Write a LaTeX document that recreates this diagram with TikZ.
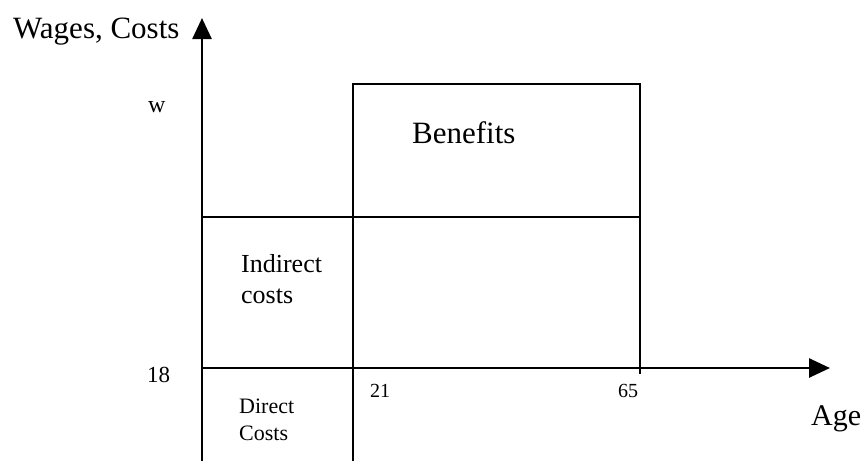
\documentclass[tikz,border=0pt]{standalone}
\usepackage{fontspec}
\setmainfont{Liberation Serif}
\usetikzlibrary{arrows.meta}
\begin{document}
\begin{tikzpicture}[x=1pt,y=-1pt,
  axis/.style={line width=2.6pt,-{Triangle[length=21pt,width=19pt]}},
  ln/.style={line width=2.6pt},
  lbl/.style={inner sep=0pt,anchor=base west,text=black}]
\useasboundingbox (0,0) rectangle (864,461);
% coordinates
\coordinate (O) at (202,368);
\coordinate (ytop) at (202,18);
\coordinate (ybot) at (202,461);
\coordinate (xend) at (830,368);
\coordinate (hl) at (202,217);
\coordinate (hr) at (640,217);
\coordinate (atop) at (353,84);
\coordinate (abot) at (353,461);
\coordinate (btop) at (640,84);
\coordinate (bbot) at (640,374);
% axes
\draw[axis] (ybot) -- (ytop);
\draw[axis] (O) -- (xend);
% lines
\draw[ln] (hl) -- (hr);
\draw[ln] (abot) -- (atop) -- (btop) -- (bbot);
% labels
\node[lbl] (wc) at (13,38) {\fontsize{31}{37}\selectfont Wages, Costs};
\node[lbl] (w) at (148,112) {\fontsize{24}{28}\selectfont w};
\node[lbl] (ben) at (412,143) {\fontsize{31}{37}\selectfont Benefits};
\node[lbl] (ind) at (241,272) {\fontsize{26}{31}\selectfont\vtop{\hbox{Indirect}\hbox{costs}}};
\node[lbl] (e18) at (147,382) {\fontsize{23}{27}\selectfont 18};
\node[lbl] (dir) at (239,413) {\fontsize{22}{27}\selectfont\vtop{\hbox{Direct}\hbox{Costs}}};
\node[lbl] (e21) at (370,397) {\fontsize{20}{24}\selectfont 21};
\node[lbl] (e65) at (618,397) {\fontsize{20}{24}\selectfont 65};
\node[lbl] (age) at (811,425) {\fontsize{30}{36}\selectfont Age};
\end{tikzpicture}
\end{document}
